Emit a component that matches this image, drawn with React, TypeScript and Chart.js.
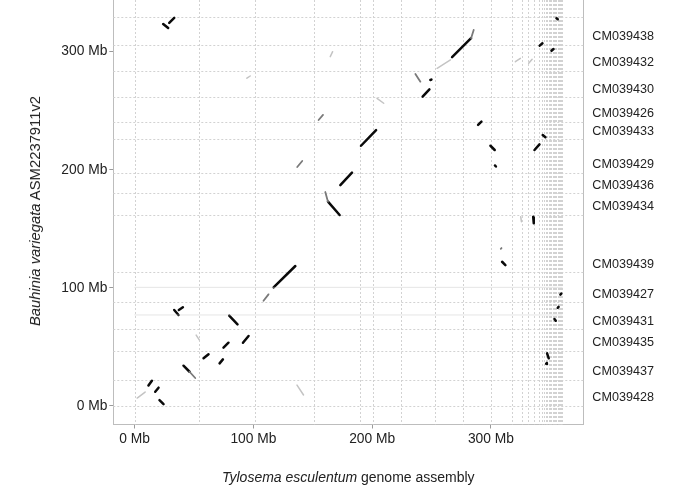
import React, { useEffect, useRef } from "react";
import { Chart, registerables } from "chart.js";

Chart.register(...registerables);

// Axis ticks (Mb)
const xTickValues = [0, 100, 200, 300];
const yTickValues = [0, 100, 200, 300];
const tickSuffix = " Mb";

// Chromosome / scaffold boundaries of the query (x, Tylosema esculentum), Mb
const queryBoundaries = [
  0, 54.4, 101.5, 150.7, 190.0, 200.7, 224.6, 252.8, 276.6, 300.0, 317.9, 326.1,
  331.3, 336.1, 340.3, 343.1, 344.6, 346.0, 347.3, 348.6, 349.8, 351.0, 352.1,
  353.2, 354.2, 355.2, 356.1, 357.0, 357.8, 358.6, 359.3, 360.0,
];

// Chromosome boundaries of the target (y, Bauhinia variegata), Mb
const targetBoundaries = [
  0, 21.8, 46.6, 64.7, 87.6, 113.1, 161.6, 180.0, 197.5, 225.8, 240.7, 261.4,
  283.9, 305.7, 329.2,
];

// Target chromosome names, bottom to top
const targetChromosomes = [
  "CM039428", "CM039437", "CM039435", "CM039431", "CM039427", "CM039439",
  "CM039434", "CM039436", "CM039429", "CM039433", "CM039426", "CM039430",
  "CM039432", "CM039438",
];
const labelOffsetMb = 6.8;

// Alignments [x1, y1, x2, y2] in Mb
const strongAlignments: number[][] = [
  [20.9, 4.8, 24.3, 1.4],
  [11.6, 17.1, 14.5, 21.2],
  [17.3, 11.9, 20.1, 15.3],
  [41.1, 33.9, 46.2, 28.8],
  [58.0, 40.2, 62.2, 43.6],
  [71.5, 35.9, 74.3, 39.3],
  [74.8, 49.2, 79.0, 53.4],
  [79.6, 76.3, 86.6, 69.0],
  [91.2, 53.4, 95.9, 59.1],
  [33.3, 81.1, 36.9, 76.9],
  [37.2, 81.1, 40.6, 83.4],
  [117.0, 100.3, 135.3, 118.4],
  [162.8, 172.9, 172.6, 161.6],
  [173.2, 186.9, 183.0, 197.5],
  [190.6, 220.3, 203.3, 233.6],
  [242.5, 261.9, 248.2, 268.1],
  [249.0, 276.0, 249.9, 276.4],
  [267.3, 295.3, 283.3, 311.4],
  [289.2, 237.9, 292.0, 240.7],
  [299.6, 220.3, 303.2, 216.7],
  [303.4, 203.6, 304.2, 202.7],
  [336.7, 216.7, 340.9, 221.5],
  [343.6, 229.4, 345.9, 227.5],
  [341.1, 305.1, 343.4, 307.1],
  [351.0, 300.8, 352.7, 302.3],
  [355.2, 328.3, 356.3, 327.5],
  [24.0, 323.5, 28.2, 320.1],
  [29.1, 324.4, 33.3, 328.6],
  [309.4, 122.0, 312.2, 119.2],
  [335.6, 160.2, 336.1, 154.6],
  [358.5, 94.2, 359.3, 95.0],
  [356.3, 83.0, 357.0, 83.8],
  [353.5, 73.5, 354.6, 72.0],
  [347.3, 44.4, 348.7, 40.2],
  [346.5, 35.5, 347.1, 36.3],
];

const mediumAlignments: number[][] = [
  [46.2, 28.8, 51.0, 23.5],
  [108.5, 89.0, 112.7, 94.4],
  [160.5, 181.1, 162.8, 172.9],
  [283.3, 311.4, 285.5, 318.4],
  [236.4, 281.1, 240.6, 274.6],
  [154.9, 242.1, 158.6, 246.4],
  [136.9, 202.3, 141.1, 207.4],
  [308.3, 133.0, 308.9, 133.6],
];

const faintAlignments: number[][] = [
  [204.1, 260.5, 209.7, 256.3],
  [254.7, 285.9, 265.9, 293.0],
  [320.6, 291.5, 324.8, 294.4],
  [331.8, 290.2, 334.7, 293.6],
  [136.7, 17.5, 142.2, 9.1],
  [164.7, 295.8, 166.7, 300.0],
  [94.5, 277.5, 97.3, 279.4],
  [325.1, 160.2, 325.7, 155.9],
  [2.1, 6.5, 8.8, 11.6],
  [51.8, 59.9, 54.4, 55.8],
];

// Repeat streaks across the query (target position, Mb)
const repeatStreaksY = [76.9, 100.3];
const repeatStreakSpan = [0, 360];

const FONT = "'Liberation Sans', Arial, Helvetica, sans-serif";

const boundaryPlugin = {
  id: "boundaries",
  beforeDatasetsDraw(chart: any) {
    const { ctx, chartArea, scales } = chart;
    ctx.save();
    ctx.strokeStyle = "#d2d2d2";
    ctx.lineWidth = 1;
    ctx.setLineDash([2, 2]);
    for (const v of queryBoundaries) {
      const px = Math.round(scales.x.getPixelForValue(v)) + 0.5;
      ctx.beginPath();
      ctx.moveTo(px, chartArea.top);
      ctx.lineTo(px, chartArea.bottom);
      ctx.stroke();
    }
    for (const v of targetBoundaries) {
      const py = Math.round(scales.y.getPixelForValue(v)) + 0.5;
      ctx.beginPath();
      ctx.moveTo(chartArea.left, py);
      ctx.lineTo(chartArea.right, py);
      ctx.stroke();
    }
    ctx.restore();
  },
};

function segDataset(seg: number[], color: string, width: number) {
  return {
    type: "line" as const,
    data: [
      { x: seg[0], y: seg[1] },
      { x: seg[2], y: seg[3] },
    ],
    borderColor: color,
    borderWidth: width,
    borderCapStyle: "round" as const,
    pointRadius: 0,
    fill: false,
    tension: 0,
    xAxisID: "x",
    yAxisID: "y",
  };
}

function noPadding(s: any) {
  s.paddingTop = 0;
  s.paddingBottom = 0;
  s.paddingLeft = 0;
  s.paddingRight = 0;
}

export default function App() {
  const canvasRef = useRef<HTMLCanvasElement | null>(null);

  useEffect(() => {
    if (!canvasRef.current) return;
    const datasets: any[] = [];
    for (const yv of repeatStreaksY) {
      datasets.push(segDataset([repeatStreakSpan[0], yv, repeatStreakSpan[1], yv], "rgba(200,200,200,0.45)", 1));
    }
    faintAlignments.forEach((s) => datasets.push(segDataset(s, "#c4c4c4", 1.5)));
    mediumAlignments.forEach((s) => datasets.push(segDataset(s, "#7a7a7a", 1.8)));
    strongAlignments.forEach((s) => datasets.push(segDataset(s, "#0a0a0a", 2.5)));

    const labelTicks = targetBoundaries.slice(0, targetChromosomes.length).map((b) => b + labelOffsetMb);

    const chart = new Chart(canvasRef.current, {
      type: "line",
      data: { datasets },
      plugins: [boundaryPlugin],
      options: {
        animation: false,
        responsive: false,
        devicePixelRatio: 1,
        layout: { padding: 0 },
        plugins: {
          legend: { display: false },
          tooltip: { enabled: false },
        },
        scales: {
          x: {
            type: "linear",
            position: "bottom",
            min: -18.0,
            max: 377.8,
            afterBuildTicks: (s: any) => {
              s.ticks = xTickValues.map((v) => ({ value: v }));
            },
            afterFit: (s: any) => {
              s.height = 70.5;
              noPadding(s);
            },
            ticks: {
              autoSkip: false,
              maxRotation: 0,
              padding: 2,
              color: "#222",
              font: { family: FONT, size: 13.8 },
              callback: (v: any) => v + tickSuffix,
            },
            grid: { drawOnChartArea: false, drawTicks: true, tickLength: 4, color: "#9a9a9a" },
            border: { display: true, color: "#bdbdbd" },
          },
          y: {
            type: "linear",
            position: "left",
            min: -15.9,
            max: 343.8,
            afterBuildTicks: (s: any) => {
              s.ticks = yTickValues.map((v) => ({ value: v }));
            },
            afterFit: (s: any) => {
              s.width = 113.3;
              noPadding(s);
            },
            ticks: {
              autoSkip: false,
              padding: 2,
              color: "#222",
              font: { family: FONT, size: 13.8 },
              callback: (v: any) => v + tickSuffix,
            },
            grid: { drawOnChartArea: false, drawTicks: true, tickLength: 4, color: "#9a9a9a" },
            border: { display: true, color: "#bdbdbd" },
          },
          y2: {
            type: "linear",
            position: "right",
            min: -15.9,
            max: 343.8,
            afterBuildTicks: (s: any) => {
              s.ticks = labelTicks.map((v) => ({ value: v }));
            },
            afterFit: (s: any) => {
              s.width = 101.7;
              noPadding(s);
            },
            ticks: {
              autoSkip: false,
              padding: 9,
              color: "#222",
              font: { family: FONT, size: 12.6 },
              callback: (_v: any, i: number) => targetChromosomes[i],
            },
            grid: { drawOnChartArea: false, drawTicks: false },
            border: { display: true, color: "#bdbdbd" },
          },
        },
      },
    } as any);
    return () => chart.destroy();
  }, []);

  return (
    <div style={{ position: "absolute", left: 0, top: 0, width: 685, height: 495, background: "#fff" }}>
      <canvas ref={canvasRef} width={685} height={495} style={{ position: "absolute", left: 0, top: 0 }} />
      <div
        style={{
          position: "absolute",
          left: 348.3,
          top: 477,
          transform: "translate(-50%, -50%)",
          whiteSpace: "nowrap",
          fontFamily: FONT,
          fontSize: 14,
          color: "#222",
        }}
      >
        <i>Tylosema esculentum</i> genome assembly
      </div>
      <div
        style={{
          position: "absolute",
          left: 35,
          top: 211,
          transform: "translate(-50%, -50%) rotate(-90deg)",
          whiteSpace: "nowrap",
          fontFamily: FONT,
          fontSize: 14.8,
          color: "#222",
        }}
      >
        <i>Bauhinia variegata</i> ASM2237911v2
      </div>
    </div>
  );
}
